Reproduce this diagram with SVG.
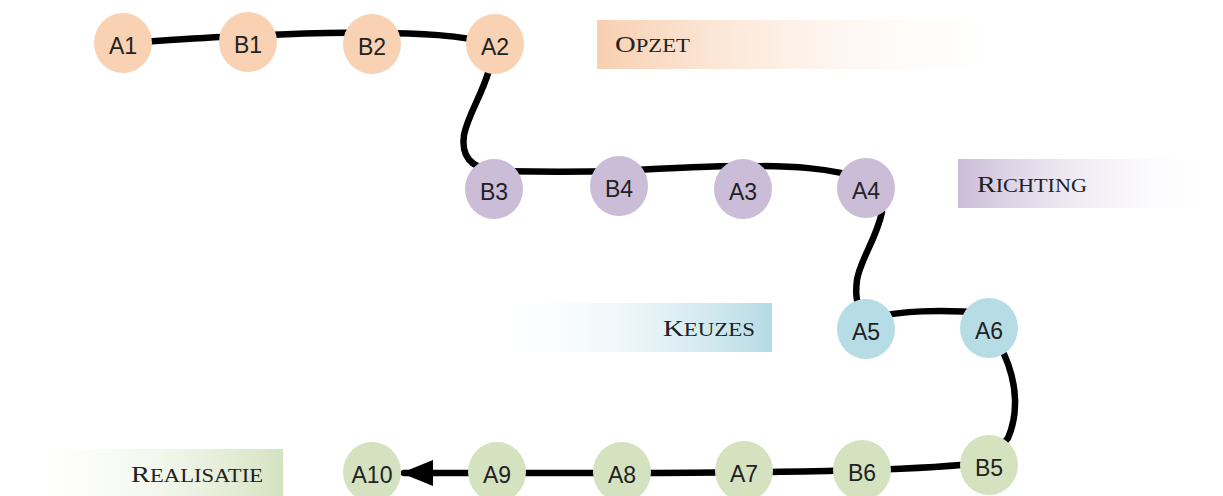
<svg xmlns="http://www.w3.org/2000/svg" width="1223" height="496" viewBox="0 0 1223 496">
<style>
.n text{font-family:"Liberation Sans",Arial,sans-serif;font-size:23px;fill:#222;text-anchor:middle}
.o ellipse{fill:#f9d1b3}.p ellipse{fill:#cbbdd8}.b ellipse{fill:#b6dce6}.g ellipse{fill:#d5e2bf}
.e path{fill:none;stroke:#000;stroke-width:6.5;stroke-linecap:round}
.lab{font-family:"Liberation Serif","Times New Roman",serif;font-size:24px;font-variant:small-caps;fill:#222}
.lab tspan{font-size:27.5px}
</style>
<defs>
<linearGradient id="gO" x1="0" x2="1" y1="0" y2="0"><stop offset="0" stop-color="#f8cfb0"/><stop offset="1" stop-color="#fff" stop-opacity="0"/></linearGradient>
<linearGradient id="gP" x1="0" x2="1" y1="0" y2="0"><stop offset="0" stop-color="#cbbcd8"/><stop offset="1" stop-color="#fff" stop-opacity="0"/></linearGradient>
<linearGradient id="gB" x1="0" x2="1" y1="0" y2="0"><stop offset="0" stop-color="#fff" stop-opacity="0"/><stop offset="1" stop-color="#b5dbe5"/></linearGradient>
<linearGradient id="gG" x1="0" x2="1" y1="0" y2="0"><stop offset="0" stop-color="#fff" stop-opacity="0"/><stop offset="1" stop-color="#d4e2bf"/></linearGradient>
<marker id="arr" markerWidth="5" markerHeight="4" refX="4.5" refY="2" orient="auto" markerUnits="strokeWidth"><path d="M0,0 L5,2 L0,4 Z" fill="#000"/></marker>
</defs>
<g id="labels">
<g id="opzet"><rect x="597" y="20" width="428" height="49" fill="url(#gO)"/><text class="lab" x="615" y="52" textLength="75" lengthAdjust="spacingAndGlyphs">O<tspan>pzet</tspan></text></g>
<g id="richting"><rect x="958" y="159" width="265" height="49" fill="url(#gP)"/><text class="lab" x="977" y="192" textLength="110" lengthAdjust="spacingAndGlyphs">R<tspan>ichting</tspan></text></g>
<g id="keuzes"><rect x="478" y="303" width="294" height="49" fill="url(#gB)"/><text class="lab" x="663" y="336" textLength="92" lengthAdjust="spacingAndGlyphs">K<tspan>euzes</tspan></text></g>
<g id="realisatie"><rect x="10" y="449" width="273" height="47" fill="url(#gG)"/><text class="lab" x="131" y="482" textLength="132" lengthAdjust="spacingAndGlyphs">R<tspan>ealisatie</tspan></text></g>
</g>
<g id="connectors" class="e">
<path d="M123,43 C175,40 205,37 248,36"/>
<path d="M248,36 C300,33 340,32 372,33"/>
<path d="M372,33 C420,33 460,35 495,44"/>
<path d="M489,70 C482,95 468,115 464,135 C461,155 470,168 494,171"/>
<path d="M494,171 C540,172 580,172 619,171"/>
<path d="M619,171 C670,168 710,166 743,166"/>
<path d="M743,166 C790,166 830,167 866,180"/>
<path d="M882,212 C876,240 860,260 857,280 C855,295 856,305 866,320"/>
<path d="M866,318 C905,311 935,309 989,313"/>
<path d="M1004,354 C1018,385 1018,415 1008,438 L989,460"/>
<path d="M989,462 C950,467 900,469 862,470"/>
<path d="M862,470 C820,471 780,472 744,472"/>
<path d="M744,472 C700,473 660,473 622,473"/>
<path d="M622,473 C580,473 540,473 497,473"/>
<path d="M497,473 L404,473" marker-end="url(#arr)"/>
</g>
<g id="A1" class="n o"><ellipse cx="123" cy="43" rx="29" ry="30"/><text x="123" y="54">A1</text></g>
<g id="B1" class="n o"><ellipse cx="248" cy="42" rx="29" ry="30"/><text x="248" y="53">B1</text></g>
<g id="B2" class="n o"><ellipse cx="372" cy="44" rx="29" ry="30"/><text x="372" y="55">B2</text></g>
<g id="A2" class="n o"><ellipse cx="495" cy="44" rx="29" ry="30"/><text x="495" y="55">A2</text></g>
<g id="B3" class="n p"><ellipse cx="494" cy="189" rx="29" ry="30"/><text x="494" y="200">B3</text></g>
<g id="B4" class="n p"><ellipse cx="619" cy="186" rx="29" ry="30"/><text x="619" y="197">B4</text></g>
<g id="A3" class="n p"><ellipse cx="743" cy="189" rx="29" ry="30"/><text x="743" y="200">A3</text></g>
<g id="A4" class="n p"><ellipse cx="866" cy="188" rx="29" ry="30"/><text x="866" y="199">A4</text></g>
<g id="A5" class="n b"><ellipse cx="866" cy="329" rx="29" ry="30"/><text x="866" y="340">A5</text></g>
<g id="A6" class="n b"><ellipse cx="989" cy="328" rx="29" ry="30"/><text x="989" y="339">A6</text></g>
<g id="B5" class="n g"><ellipse cx="989" cy="465" rx="29" ry="30"/><text x="989" y="476">B5</text></g>
<g id="B6" class="n g"><ellipse cx="862" cy="470" rx="29" ry="30"/><text x="862" y="481">B6</text></g>
<g id="A7" class="n g"><ellipse cx="744" cy="471" rx="29" ry="30"/><text x="744" y="482">A7</text></g>
<g id="A8" class="n g"><ellipse cx="622" cy="472" rx="29" ry="30"/><text x="622" y="483">A8</text></g>
<g id="A9" class="n g"><ellipse cx="497" cy="472" rx="29" ry="30"/><text x="497" y="483">A9</text></g>
<g id="A10" class="n g"><ellipse cx="372" cy="472" rx="29" ry="30"/><text x="372" y="483">A10</text></g>
</svg>
